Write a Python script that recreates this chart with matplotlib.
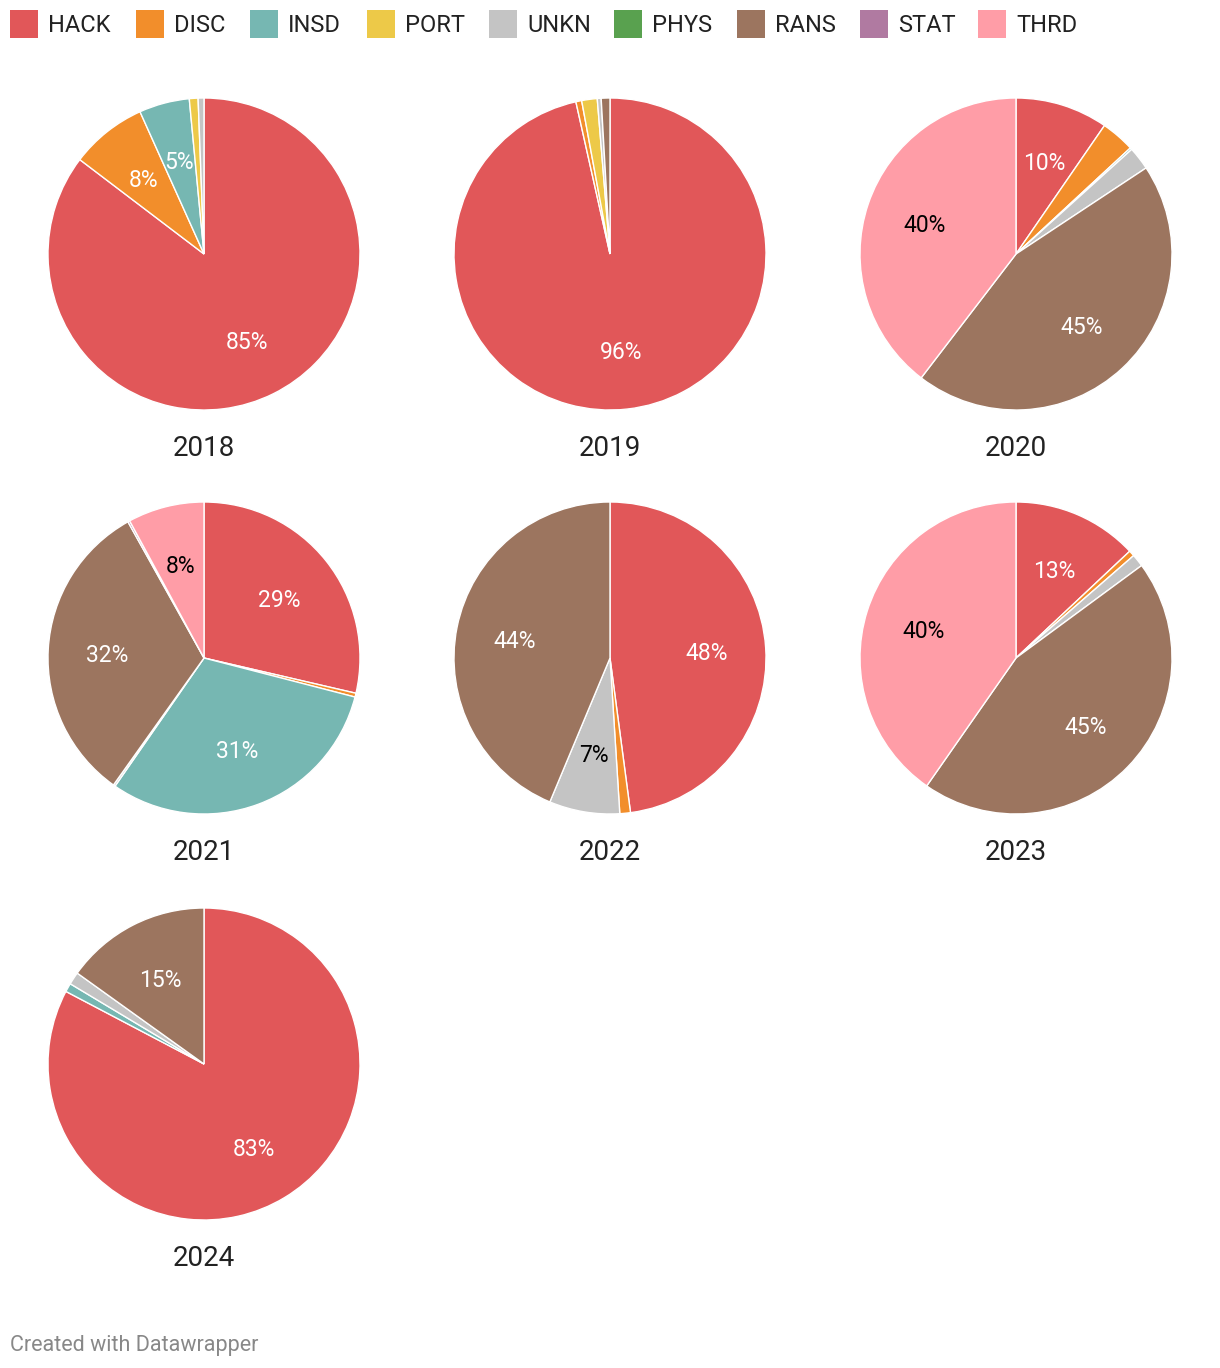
import math
import matplotlib
matplotlib.use("Agg")
import matplotlib.pyplot as plt
from matplotlib.patches import Rectangle

plt.rcParams['font.family'] = ['Roboto', 'DejaVu Sans']

categories = ["HACK", "DISC", "INSD", "PORT", "UNKN", "PHYS", "RANS", "STAT", "THRD"]
colors = ["#e15759", "#f28e2b", "#76b7b2", "#edc948", "#c4c4c4", "#59a14f", "#9c755f", "#b07aa1", "#ff9da7"]
dark_text = {"UNKN", "THRD", "PORT"}

years = ["2018", "2019", "2020", "2021", "2022", "2023", "2024"]
#            HACK  DISC  INSD  PORT  UNKN  PHYS  RANS  STAT  THRD
v2018 = [85.0, 7.9, 5.2, 0.9, 0.6, 0.0, 0.0, 0.0, 0.0]
v2019 = [96.2, 0.6, 0.0, 1.6, 0.4, 0.0, 0.9, 0.0, 0.0]
v2020 = [9.6, 3.5, 0.2, 0.0, 2.4, 0.0, 44.7, 0.0, 39.6]
v2021 = [28.6, 0.4, 30.6, 0.0, 0.2, 0.0, 32.0, 0.2, 7.9]
v2022 = [47.9, 1.1, 0.0, 0.0, 7.3, 0.0, 43.7, 0.0, 0.0]
v2023 = [13.0, 0.6, 0.0, 0.0, 1.3, 0.0, 44.8, 0.0, 40.3]
v2024 = [82.7, 0.0, 0.9, 0.0, 1.3, 0.0, 15.1, 0.0, 0.0]
values = [v2018, v2019, v2020, v2021, v2022, v2023, v2024]

W, H = 1220, 1368
fig = plt.figure(figsize=(W / 100, H / 100), dpi=100)

R = 156
centers_x = [204, 610, 1016]
centers_y = [254, 658, 1064]

for i, (yr, vals) in enumerate(zip(years, values)):
    cx = centers_x[i % 3]
    cy = centers_y[i // 3]
    ax = fig.add_axes([(cx - R) / W, 1 - (cy + R) / H, 2 * R / W, 2 * R / H])
    idx = [k for k, v in enumerate(vals) if v > 0]
    vv = [vals[k] for k in idx]
    cc = [colors[k] for k in idx]
    total = sum(vv)
    ax.pie(vv, colors=cc, startangle=90, counterclock=False,
           radius=1, wedgeprops=dict(edgecolor="white", linewidth=1.0))
    ang = 0.0
    for k, v in zip(idx, vv):
        frac = v / total
        mid = ang + frac * 180.0
        ang += frac * 360.0
        if frac * 100 >= 4.5:
            x = 0.62 * math.sin(math.radians(mid))
            y = 0.62 * math.cos(math.radians(mid)) - 0.015
            col = "black" if categories[k] in dark_text else "white"
            ax.text(x, y, f"{round(frac * 100):d}%", ha="center", va="center",
                    fontsize=16.5, color=col)
    ax.set_xlim(-1, 1)
    ax.set_ylim(-1, 1)
    ax.set_aspect("equal")
    ax.axis("off")
    fig.text(cx / W, 1 - (cy + R + 38) / H, yr, ha="center", va="center",
             fontsize=20, color="#222222")

# legend
leg_x = [10, 136, 250, 367, 489, 614, 737, 860, 978]
lax = fig.add_axes([0, 0, 1, 1])
lax.set_xlim(0, W)
lax.set_ylim(H, 0)
lax.axis("off")
for x, cat, col in zip(leg_x, categories, colors):
    lax.add_patch(Rectangle((x, 10), 28, 28, facecolor=col, edgecolor="none"))
    lax.text(x + 38, 25, cat, ha="left", va="center", fontsize=17, color="#222222")

lax.text(10, 1345, "Created with Datawrapper", ha="left", va="center",
         fontsize=15.5, color="#888888")

fig.savefig("out.png", dpi=100)
